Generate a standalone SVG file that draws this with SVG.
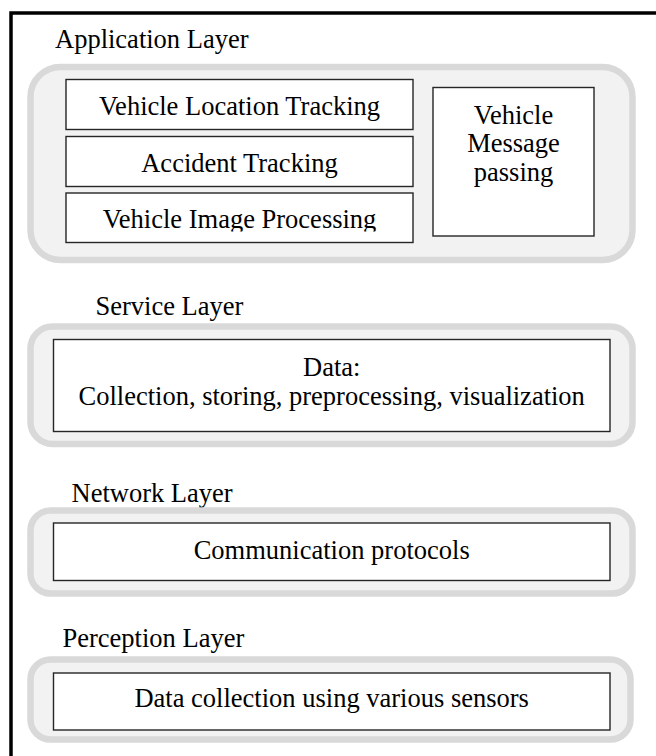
<svg xmlns="http://www.w3.org/2000/svg" width="656" height="756" viewBox="0 0 656 756">
  <style>
    .frame { fill: none; stroke: #000; stroke-width: 3.5; }
    .layer { fill: #f2f2f2; stroke: #d9d9d9; stroke-width: 6.5; }
    .box { fill: #fff; stroke: #262626; stroke-width: 1.4; }
    .title { font-family: "Liberation Serif", "Times New Roman", serif; font-size: 26.5px; fill: #000; }
    .label { font-family: "Liberation Serif", "Times New Roman", serif; font-size: 26.5px; fill: #000; text-anchor: middle; }
  </style>
  <defs>
    <!-- the bottom caption cell crops its descenders -->
    <clipPath id="clip-image-processing">
      <rect x="66" y="193" width="347" height="38.5"/>
    </clipPath>
  </defs>

  <rect width="656" height="756" fill="#fff"/>
  <!-- outer frame, running off the right and bottom edges -->
  <rect class="frame" x="11" y="13" width="670" height="770"/>

  <!-- Application layer -->
  <g id="application-layer">
    <text class="title" x="55" y="47.5">Application Layer</text>
    <rect class="layer" x="30.5" y="67" width="602" height="193" rx="30" ry="30"/>
  </g>
  <g id="vehicle-location-tracking">
    <rect class="box" x="66" y="79.5" width="347" height="50"/>
    <text class="label" x="239.5" y="114.5">Vehicle Location Tracking</text>
  </g>
  <g id="accident-tracking">
    <rect class="box" x="66" y="136.5" width="347" height="50"/>
    <text class="label" x="239.5" y="171.5">Accident Tracking</text>
  </g>
  <g id="vehicle-image-processing">
    <rect class="box" x="66" y="193" width="347" height="49.5"/>
    <text class="label" x="239.5" y="228.3" clip-path="url(#clip-image-processing)">Vehicle Image Processing</text>
  </g>
  <g id="vehicle-message-passing">
    <rect class="box" x="433" y="87.5" width="161" height="148.5"/>
    <text class="label" x="513.5" y="124">Vehicle</text>
    <text class="label" x="513.5" y="152">Message</text>
    <text class="label" x="513.5" y="180.5">passing</text>
  </g>

  <!-- Service layer -->
  <g id="service-layer">
    <text class="title" x="95.5" y="315">Service Layer</text>
    <rect class="layer" x="30.5" y="326.5" width="602" height="117.5" rx="22" ry="22"/>
  </g>
  <g id="data-handling">
    <rect class="box" x="53.5" y="339.5" width="556.5" height="92"/>
    <text class="label" x="331.7" y="376">Data:</text>
    <text class="label" x="331.7" y="405">Collection, storing, preprocessing, visualization</text>
  </g>

  <!-- Network layer -->
  <g id="network-layer">
    <text class="title" x="71.5" y="501.5">Network Layer</text>
    <rect class="layer" x="30.5" y="510.5" width="602" height="83" rx="20" ry="20"/>
  </g>
  <g id="communication-protocols">
    <rect class="box" x="53.5" y="523" width="556.5" height="57.5"/>
    <text class="label" x="331.7" y="559">Communication protocols</text>
  </g>

  <!-- Perception layer -->
  <g id="perception-layer">
    <text class="title" x="62.5" y="647">Perception Layer</text>
    <rect class="layer" x="30.5" y="659.5" width="600" height="80" rx="20" ry="20"/>
  </g>
  <g id="sensor-collection">
    <rect class="box" x="53.5" y="673" width="556.5" height="57"/>
    <text class="label" x="331.7" y="707">Data collection using various sensors</text>
  </g>

  <!-- no connectors between layers -->
  <g id="connectors"/>
</svg>
